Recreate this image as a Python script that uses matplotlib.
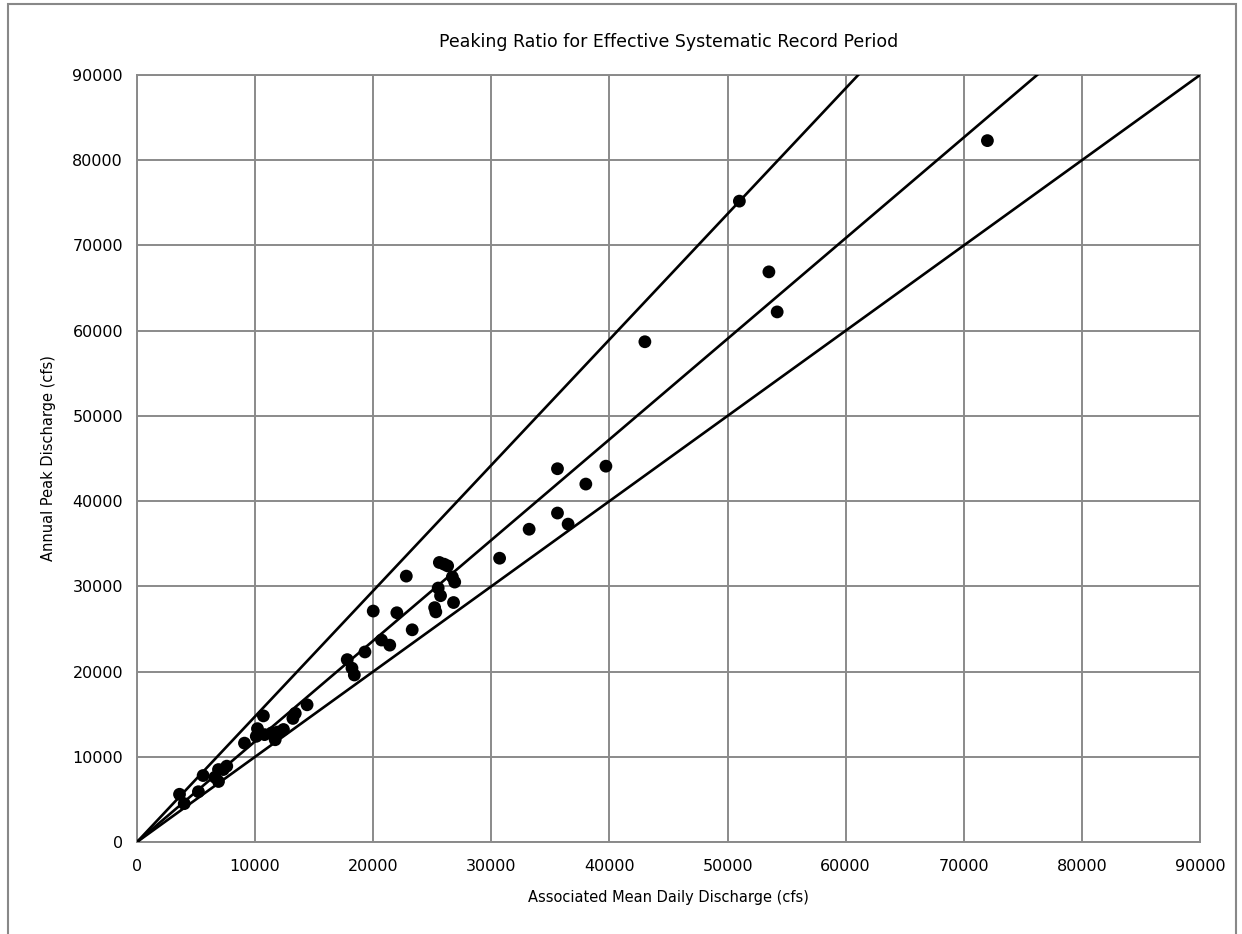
import numpy as np
import matplotlib.pyplot as plt
from matplotlib.patches import Rectangle

# ---------------------------------------------------------------------
# DATA
# ---------------------------------------------------------------------
mean_daily = [72000, 51000, 53500, 54200, 43000,
              35600, 39700, 38000, 35600, 36500, 33200, 30700,
              22800, 25600, 26000, 26300, 26700, 26900, 25500, 25700,
              26800, 25200, 25300, 20000, 22000, 23300, 20700, 21400,
              19300, 17800, 18200, 18400,
              14400, 13400, 13200, 10700, 10200, 10100, 10800, 11400,
              11900, 12400, 11700, 9100, 7600, 7300, 6900, 6600, 6900,
              5600, 5200, 3600, 4000]
annual_peak = [82300, 75200, 66900, 62200, 58700,
               43800, 44100, 42000, 38600, 37300, 36700, 33300,
               31200, 32800, 32600, 32400, 31100, 30500, 29800, 28900,
               28100, 27500, 27000, 27100, 26900, 24900, 23700, 23100,
               22300, 21400, 20400, 19600,
               16100, 15100, 14500, 14800, 13300, 12400, 12600, 12800,
               12900, 13200, 12000, 11600, 8900, 8500, 8500, 7600, 7100,
               7800, 5900, 5600, 4500]

# peaking ratio envelope lines through the origin
ratios = [1.474, 1.181, 1.0]

axis_ticks = np.arange(0, 90001, 10000)

# ---------------------------------------------------------------------
# PLOT
# ---------------------------------------------------------------------
plt.rcParams["font.family"] = "DejaVu Sans"

fig = plt.figure(figsize=(12.42, 9.34), dpi=100)
ax = fig.add_axes([0.1103, 0.0985, 0.8559, 0.8212])

x_line = np.array([0, 90000])
for r in ratios:
    ax.plot(x_line, r * x_line, color="black", linewidth=1.9, zorder=3)

ax.scatter(mean_daily, annual_peak, s=85, color="black", zorder=4,
           edgecolors="none")

ax.set_xlim(0, 90000)
ax.set_ylim(0, 90000)
ax.set_xticks(axis_ticks)
ax.set_yticks(axis_ticks)
ax.tick_params(length=0, labelsize=11.5, colors="black", pad=12)
ax.tick_params(axis="y", pad=10)
ax.grid(True, color="#8a8a8a", linewidth=1.4)
ax.set_axisbelow(True)
for sp in ax.spines.values():
    sp.set_color("#8a8a8a")
    sp.set_linewidth(1.4)

ax.set_title("Peaking Ratio for Effective Systematic Record Period",
             fontsize=12.5, pad=20)
ax.set_xlabel("Associated Mean Daily Discharge (cfs)", fontsize=10.5,
              labelpad=12)
ax.set_ylabel("Annual Peak Discharge (cfs)", fontsize=10.5, labelpad=12)

# outer chart border
fig.patches.append(Rectangle((8 / 1242, -0.01), 1228 / 1242, 1.01 - 4 / 934,
                             transform=fig.transFigure, fill=False,
                             edgecolor="#888888", linewidth=1.5))

fig.savefig("out.png", dpi=100)
